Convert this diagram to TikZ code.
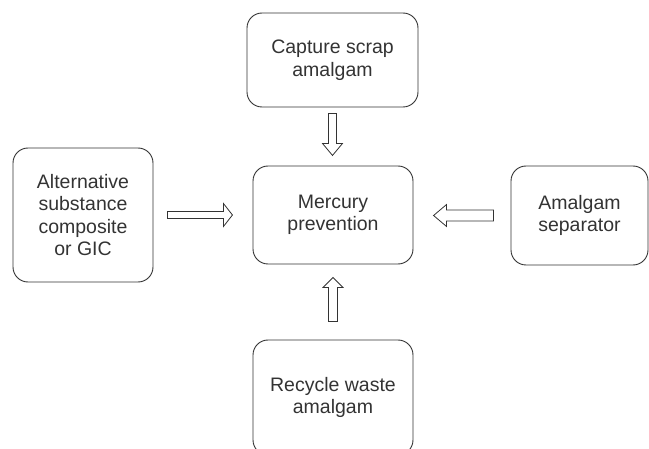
\documentclass[tikz,border=0pt]{standalone}
\usepackage{fontspec}
\setmainfont{Liberation Sans}
\usetikzlibrary{calc}
\definecolor{inkgray}{HTML}{333333}

\tikzset{
  box/.style={draw=inkgray, line width=0.9pt, rounded corners=15pt, align=center,
              text=inkgray, font=\fontsize{19.5}{22.5}\selectfont, inner sep=0pt},
  blockarr/.style={draw=inkgray, line width=0.8pt, fill=white, line join=miter}
}

\begin{document}
\begin{tikzpicture}[x=1pt,y=1pt]
            \path[use as bounding box, clip] (0,0) rectangle (649,448);

            % boxes
            \node[box, minimum width=171pt, minimum height=94pt] (capture) at (332.5,388) {Capture scrap\\amalgam};
            \node[box, minimum width=160pt, minimum height=98pt] (merc) at (333,233) {Mercury\\prevention};
            \node[box, minimum width=140pt, minimum height=134pt] (alt) at (83,233) {Alternative\\substance\\composite\\or GIC};
            \node[box, minimum width=137pt, minimum height=99pt] (sep) at (579.5,232.5) {Amalgam\\separator};
            \node[box, minimum width=160pt, minimum height=115pt] (recycle) at (333,50.5) {Recycle waste\\amalgam};

             %arrows
                 \draw[blockarr] ($(capture.south)+(-4pt,-6pt)$) -- ++(0,-30pt) -- ++(-6pt,0)
                     -- ++(10pt,-12pt) -- ++(10pt,12pt) -- ++(-6pt,0) -- ++(0,30pt) -- cycle;
                 \draw[blockarr] ($(alt.east)+(14pt,3.5pt)$) -- ++(56pt,0) -- ++(0,8pt)
                     -- ++(9pt,-11.5pt) -- ++(-9pt,-11.5pt) -- ++(0,8pt) -- ++(-56pt,0) -- cycle;
                 \draw[blockarr] ($(sep.west)+(-17pt,5.5pt)$) -- ++(-47pt,0) -- ++(0,5.5pt)
                     -- ++(-13pt,-11pt) -- ++(13pt,-11pt) -- ++(0,5.5pt) -- ++(47pt,0) -- cycle;
                 \draw[blockarr] ($(recycle.north)+(-4.5pt,18pt)$) -- ++(0,34pt) -- ++(-5.5pt,0)
                     -- ++(10pt,10pt) -- ++(10pt,-10pt) -- ++(-5.5pt,0) -- ++(0,-34pt) -- cycle;
\end{tikzpicture}
\end{document}
